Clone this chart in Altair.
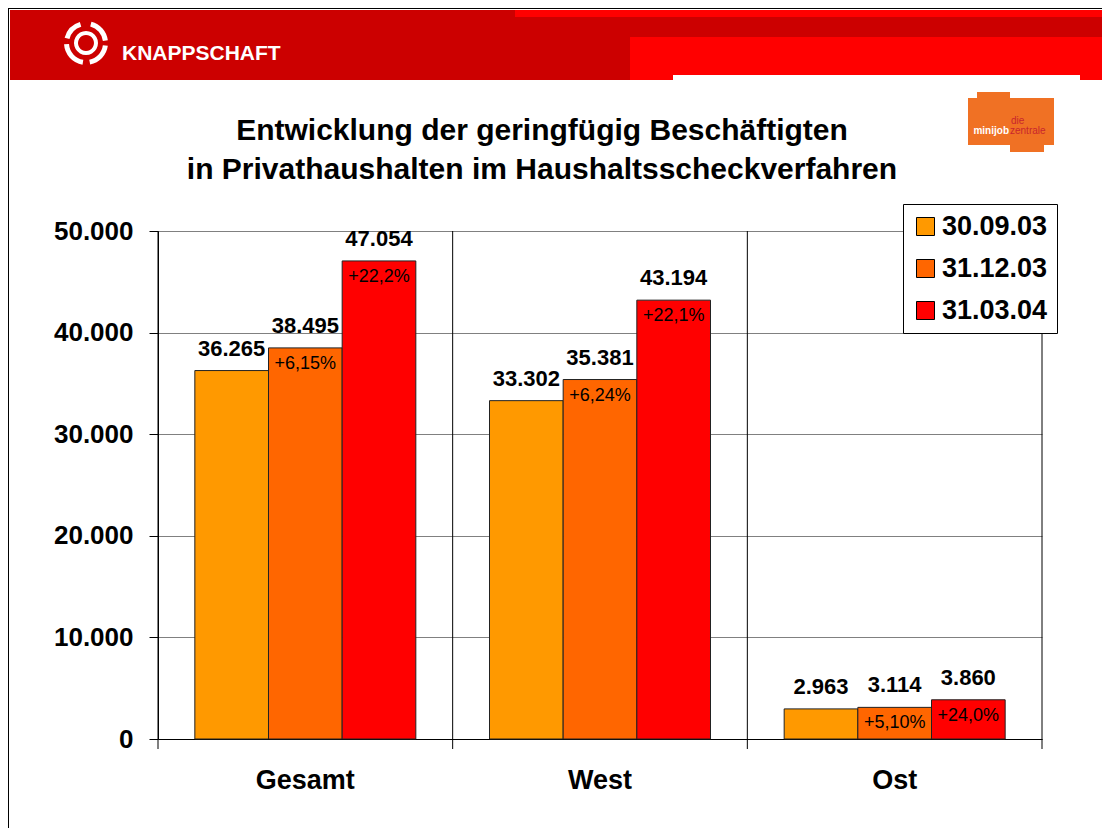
import altair as alt
import pandas as pd

categories = ["Gesamt", "West", "Ost"]
series = ["30.09.03", "31.12.03", "31.03.04"]
colors = ["#FF9900", "#FF6600", "#FF0000"]
values_3009 = [36265, 33302, 2963]
values_3112 = [38495, 35381, 3114]
values_3103 = [47054, 43194, 3860]
pct_3009 = ["", "", ""]
pct_3112 = ["+6,15%", "+6,24%", "+5,10%"]
pct_3103 = ["+22,2%", "+22,1%", "+24,0%"]
y_ticks = [0, 10000, 20000, 30000, 40000, 50000]
title_lines = ["Entwicklung der geringfügig Beschäftigten",
               "in Privathaushalten im Haushaltsscheckverfahren"]

rows = []
for s, vals, pcts in [(series[0], values_3009, pct_3009),
                      (series[1], values_3112, pct_3112),
                      (series[2], values_3103, pct_3103)]:
    for c, v, p in zip(categories, vals, pcts):
        rows.append({"cat": c, "series": s, "value": v,
                     "label": f"{v:,}".replace(",", "."), "pct": p})
df = pd.DataFrame(rows)
one = pd.DataFrame({"k": [0]})
bounds = pd.DataFrame({"cat": categories})

FONT = "Liberation Sans"
W, H = 884, 508

x_axis = alt.Axis(title=None, ticks=False, grid=False, domain=True,
                  domainColor="black", labelFont=FONT, labelFontSize=27,
                  labelFontWeight="bold", labelColor="black",
                  labelPadding=28, labelAngle=0)
x_scale = alt.Scale(paddingInner=0, paddingOuter=0)
x_enc = alt.X("cat:N", sort=categories, scale=x_scale, axis=x_axis)
xo_enc = alt.XOffset("series:N", sort=series,
                     scale=alt.Scale(paddingInner=0, paddingOuter=0.5))
y_enc = alt.Y("value:Q", scale=alt.Scale(domain=[0, 50000], nice=False),
              axis=alt.Axis(title=None, values=y_ticks,
                            labelExpr="replace(format(datum.value, ','), ',', '.')",
                            grid=True, gridColor="#808080", gridOpacity=1,
                            domainColor="black", tickColor="black", tickSize=9,
                            labelFont=FONT, labelFontSize=26, labelFontWeight="bold",
                            labelColor="black", labelPadding=16))


def rect(x1, x2, y1, y2, color):
    return alt.Chart(one).mark_rect(color=color).encode(
        x=alt.value(x1), x2=alt.value(x2), y=alt.value(y1), y2=alt.value(y2))


def txt(s, x, y, size, color="black", weight="normal", align="center", font=FONT):
    return alt.Chart(one).mark_text(text=s, font=font, fontSize=size, fontWeight=weight,
                                    color=color, align=align, baseline="alphabetic").encode(
        x=alt.value(x), y=alt.value(y))


def arc(t1, t2, r1, r2):
    return alt.Chart(one).mark_arc(color="white").encode(
        x=alt.value(-72), y=alt.value(-188), theta=alt.value(t1), theta2=alt.value(t2),
        radius=alt.value(r1), radius2=alt.value(r2))


deco = [
    rect(-148, 944, -221, -151, "#CC0000"),
    rect(357, 944, -221, -214, "#FF0000"),
    rect(472, 944, -194, -151, "#FF0000"),
    rect(515, 922, -156, -151, "#FFFFFF"),
    alt.Chart(one).mark_rule(color="black").encode(x=alt.value(-150), x2=alt.value(944), y=alt.value(-222.5)),
    alt.Chart(one).mark_rule(color="black").encode(x=alt.value(-149.5), y=alt.value(-223), y2=alt.value(597)),
    arc(0.25, 1.45, 22, 17), arc(1.7, 2.95, 22, 17), arc(3.3, 4.65, 22, 17), arc(4.95, 6.0, 22, 17),
    arc(0.0, 6.283, 12, 8),
    txt("KNAPPSCHAFT", -36, -171, 21, color="white", weight="bold", align="left"),
    rect(810, 896, -133, -86, "#F07124"),
    rect(819, 852, -139, -133, "#F07124"),
    rect(852, 886, -86, -79, "#F07124"),
    txt("minijob", 851, -97, 10, color="white", weight="bold", align="right"),
    txt("zentrale", 852, -97, 10, color="#C8262D", align="left"),
    txt("die", 853, -107, 10, color="#C8262D", align="left"),
    txt(title_lines[0], 384, -91, 30, weight="bold"),
    txt(title_lines[1], 384, -52, 30, weight="bold"),
]

bars = alt.Chart(df).mark_bar(stroke="#222222", strokeWidth=1).encode(
    x=x_enc, xOffset=xo_enc, y=y_enc,
    color=alt.Color("series:N", sort=series,
                    scale=alt.Scale(domain=series, range=colors),
                    legend=alt.Legend(orient="none", legendX=745, legendY=-27, title=None,
                                      labelFont=FONT, labelFontSize=27, labelFontWeight="bold",
                                      labelColor="black", symbolType="square", symbolSize=324,
                                      symbolStrokeColor="black", symbolStrokeWidth=1,
                                      symbolOpacity=1, rowPadding=14, padding=9,
                                      strokeColor="black", fillColor="white", labelOffset=3,
                                      cornerRadius=0)))

sep = alt.Chart(bounds).mark_rule(color="black").encode(
    x=alt.X("cat:N", sort=categories, bandPosition=0, scale=x_scale, axis=x_axis),
    y=alt.value(0), y2=alt.value(H + 10))
right_edge = alt.Chart(one).mark_rule(color="black").encode(
    x=alt.value(W), y=alt.value(0), y2=alt.value(H + 10))

val_text = alt.Chart(df).mark_text(font=FONT, fontSize=22, fontWeight="bold",
                                   baseline="alphabetic", dy=-15, color="black").encode(
    x=x_enc, xOffset=xo_enc, y=y_enc, text="label:N")
pct_text = alt.Chart(df).mark_text(font=FONT, fontSize=18, baseline="alphabetic",
                                   dy=21, color="black").encode(
    x=x_enc, xOffset=xo_enc, y=y_enc, text="pct:N")

chart = alt.layer(*deco, bars, sep, right_edge, val_text, pct_text).properties(
    width=W, height=H,
    autosize=alt.AutoSizeParams(type="none"),
    padding={"left": 150, "top": 223, "right": 60, "bottom": 89},
).configure_view(stroke=None)

chart.save("out.html", embed_options={"renderer": "svg", "actions": False})
